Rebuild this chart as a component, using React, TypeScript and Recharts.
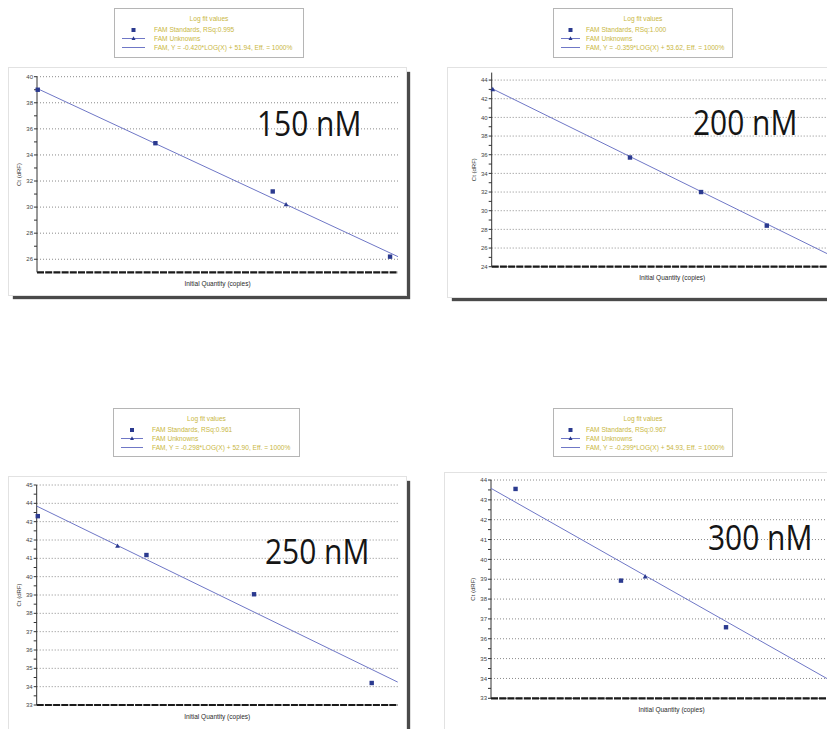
/**
 * StdCurvePanels - 四个浓度下的标准曲线 (Ct vs log quantity)
 */
import React from 'react';
import {
    ScatterChart,
    Scatter,
    XAxis,
    YAxis,
    CartesianGrid,
    Legend,
} from 'recharts';

// x = 对数起始量在坐标轴上的位置 (0-100, 无刻度), y = Ct (dRF)

// 150 nM
const p150Std = [
    { x: 0.2, y: 39.0 },
    { x: 32.8, y: 34.9 },
    { x: 65.3, y: 31.2 },
    { x: 97.8, y: 26.2 },
];
const p150Unk = [{ x: 69.0, y: 30.2 }];
const p150Fit = [{ x: 0, y: 39.1 }, { x: 100, y: 26.2 }];
const p150Major = [26, 28, 30, 32, 34, 36, 38, 40];
const p150Minor = [27, 29, 31, 33, 35, 37, 39];
const p150Legend = ['FAM Standards, RSq:0.995', 'FAM Unknowns', 'FAM, Y = -0.420*LOG(X) + 51.94, Eff. = 1000%'];

// 200 nM
const p200Std = [
    { x: 38.3, y: 35.7 },
    { x: 58.0, y: 32.0 },
    { x: 76.2, y: 28.4 },
];
const p200Unk = [{ x: 0.3, y: 43.0 }];
const p200Fit = [{ x: 0, y: 43.1 }, { x: 100, y: 24.05 }];
const p200Major = [24, 26, 28, 30, 32, 34, 36, 38, 40, 42, 44];
const p200Minor = [25, 27, 29, 31, 33, 35, 37, 39, 41, 43];
const p200Legend = ['FAM Standards, RSq:1.000', 'FAM Unknowns', 'FAM, Y = -0.359*LOG(X) + 53.62, Eff. = 1000%'];

// 250 nM
const p250Std = [
    { x: 0.3, y: 43.3 },
    { x: 30.4, y: 41.18 },
    { x: 60.2, y: 39.04 },
    { x: 92.8, y: 34.2 },
];
const p250Unk = [{ x: 22.4, y: 41.67 }];
const p250Fit = [{ x: 0, y: 43.85 }, { x: 100, y: 34.25 }];
const p250Major = [33, 34, 35, 36, 37, 38, 39, 40, 41, 42, 43, 44, 45];
const p250Minor = [33.5, 34.5, 35.5, 36.5, 37.5, 38.5, 39.5, 40.5, 41.5, 42.5, 43.5, 44.5];
const p250Legend = ['FAM Standards, RSq:0.961', 'FAM Unknowns', 'FAM, Y = -0.298*LOG(X) + 52.90, Eff. = 1000%'];

// 300 nM
const p300Std = [
    { x: 6.8, y: 43.55 },
    { x: 36.0, y: 38.93 },
    { x: 65.1, y: 36.58 },
];
const p300Unk = [{ x: 42.7, y: 39.13 }];
const p300Fit = [{ x: 0, y: 43.58 }, { x: 100, y: 33.28 }];
const p300Major = [33, 34, 35, 36, 37, 38, 39, 40, 41, 42, 43, 44];
const p300Minor = [33.5, 34.5, 35.5, 36.5, 37.5, 38.5, 39.5, 40.5, 41.5, 42.5, 43.5];
const p300Legend = ['FAM Standards, RSq:0.967', 'FAM Unknowns', 'FAM, Y = -0.299*LOG(X) + 54.93, Eff. = 1000%'];

const FONT = '"Liberation Sans", Arial, sans-serif';
const STD_COLOR = '#2b3a8f';
const FIT_COLOR = '#6f77c6';
const LEGEND_TEXT = '#c9b743';
const Y_W = 22;
const X_H = 18;

const panels = [
    {
        name: '150 nM', std: p150Std, unk: p150Unk, fit: p150Fit, major: p150Major, minor: p150Minor,
        legend: p150Legend, domain: [25, 40],
        box: { x: 9, y: 68, w: 397, h: 227 }, plot: { left: 37, top: 76.7, bottom: 272.3 },
        lg: { x: 114, y: 8, w: 190, h: 50, icon: 31, text: 40 }, big: { x: 257, cy: 124 },
    },
    {
        name: '200 nM', std: p200Std, unk: p200Unk, fit: p200Fit, major: p200Major, minor: p200Minor,
        legend: p200Legend, domain: [24, 44.8],
        box: { x: 448, y: 68, w: 420, h: 229 }, plot: { left: 491.7, top: 72.6, bottom: 266.7 },
        lg: { x: 553, y: 8, w: 180, h: 50, icon: 27, text: 33 }, big: { x: 693, cy: 122.5 },
    },
    {
        name: '250 nM', std: p250Std, unk: p250Unk, fit: p250Fit, major: p250Major, minor: p250Minor,
        legend: p250Legend, domain: [33, 45],
        box: { x: 9, y: 477, w: 397, h: 270 }, plot: { left: 36.7, top: 485, bottom: 705 },
        lg: { x: 113, y: 408, w: 187, h: 49, icon: 30, text: 39 }, big: { x: 265, cy: 552 },
    },
    {
        name: '300 nM', std: p300Std, unk: p300Unk, fit: p300Fit, major: p300Major, minor: p300Minor,
        legend: p300Legend, domain: [33, 44],
        box: { x: 445, y: 473, w: 420, h: 270 }, plot: { left: 491, top: 480, bottom: 698.3 },
        lg: { x: 553, y: 408, w: 180, h: 49, icon: 27, text: 33 }, big: { x: 708, cy: 538 },
    },
];

const StdMark = (p: any) => (
    <rect x={p.cx - 2.2} y={p.cy - 2.2} width={4.4} height={4.4} fill={STD_COLOR} />
);
const UnkMark = (p: any) => (
    <path d={`M${p.cx},${p.cy - 2.6}L${p.cx + 2.4},${p.cy + 1.8}L${p.cx - 2.4},${p.cy + 1.8}Z`} fill={STD_COLOR} />
);
const NoMark = () => <g />;

function FitLegend({ lg, labels }: any) {
    const rowY = [22, 30.5, 39.5];
    const mid = (8 + lg.icon) / 2;
    return (
        <div
            style={{
                position: 'relative', width: lg.w, height: lg.h, boxSizing: 'border-box',
                border: '1px solid #b5b5b5', background: '#fff', fontFamily: FONT,
                fontSize: 6.6, color: LEGEND_TEXT,
            }}
        >
            <div style={{ position: 'absolute', top: 6, left: 0, width: '100%', textAlign: 'center', lineHeight: '8px' }}>
                Log fit values
            </div>
            <svg width={lg.w} height={lg.h} style={{ position: 'absolute', left: -1, top: -1 }}>
                <rect x={mid - 2} y={rowY[0] - 2} width={4} height={4} fill={STD_COLOR} />
                <line x1={8} x2={lg.icon} y1={rowY[1]} y2={rowY[1]} stroke={FIT_COLOR} strokeWidth={1} />
                <path d={`M${mid},${rowY[1] - 2.3}L${mid + 2},${rowY[1] + 1.5}L${mid - 2},${rowY[1] + 1.5}Z`} fill={STD_COLOR} />
                <line x1={8} x2={lg.icon} y1={rowY[2]} y2={rowY[2]} stroke={FIT_COLOR} strokeWidth={1} />
            </svg>
            {labels.map((t: string, i: number) => (
                <div
                    key={t}
                    style={{ position: 'absolute', left: lg.text - 1, top: rowY[i] - 5, lineHeight: '8px', whiteSpace: 'nowrap' }}
                >
                    {t}
                </div>
            ))}
        </div>
    );
}

function Panel({ cfg }: any) {
    const { box, plot, lg } = cfg;
    const plotW = 361;
    const relLeft = plot.left - box.x;
    const margin = {
        top: plot.top - box.y,
        left: relLeft - Y_W,
        right: box.w - relLeft - plotW,
        bottom: box.h - (plot.bottom - box.y) - X_H,
    };
    const ticks = [...cfg.major, ...cfg.minor].sort((a, b) => a - b);
    return (
        <div
            style={{
                position: 'absolute', left: box.x, top: box.y, width: box.w, height: box.h,
                background: '#fff', boxShadow: '0 0 0 1px #e2e2e2, 4px 4px 1px #4a4a4a',
            }}
        >
            <ScatterChart width={box.w} height={box.h} margin={margin} style={{ fontFamily: FONT }}>
                <CartesianGrid
                    vertical={false}
                    horizontalValues={cfg.major}
                    stroke="#8a8a8a"
                    strokeDasharray="1 2"
                />
                <XAxis
                    type="number"
                    dataKey="x"
                    domain={[0, 100]}
                    height={X_H}
                    tick={false}
                    tickLine={false}
                    axisLine={{ stroke: '#1a1a1a', strokeWidth: 2.2, strokeDasharray: '7 1.2' }}
                    label={{
                        value: 'Initial Quantity (copies)', position: 'insideTop', offset: 9,
                        fontSize: 6.5, fill: '#2a2a2a',
                    }}
                />
                <YAxis
                    type="number"
                    dataKey="y"
                    domain={cfg.domain}
                    ticks={ticks}
                    interval={0}
                    allowDataOverflow
                    width={Y_W}
                    tickSize={3}
                    tickMargin={1}
                    tickLine={{ stroke: '#333' }}
                    axisLine={{ stroke: '#333' }}
                    tick={{ fontSize: 6, fill: '#444' }}
                    tickFormatter={(v: number) => (cfg.major.includes(v) ? String(v) : '')}
                    label={{
                        value: 'Ct (dRF)', angle: -90, position: 'insideLeft', offset: 4,
                        fontSize: 6, fill: '#333', style: { textAnchor: 'middle' },
                    }}
                />
                <Legend
                    layout="vertical"
                    align="center"
                    verticalAlign="middle"
                    wrapperStyle={{
                        position: 'absolute', left: lg.x - box.x, top: lg.y - box.y,
                        width: lg.w, height: lg.h, margin: 0,
                    }}
                    content={() => <FitLegend lg={lg} labels={cfg.legend} />}
                />
                <Scatter
                    name={cfg.legend[2]}
                    data={cfg.fit}
                    line={{ stroke: FIT_COLOR, strokeWidth: 1 }}
                    shape={NoMark}
                    isAnimationActive={false}
                />
                <Scatter name={cfg.legend[0]} data={cfg.std} shape={StdMark} isAnimationActive={false} />
                <Scatter name={cfg.legend[1]} data={cfg.unk} shape={UnkMark} isAnimationActive={false} />
            </ScatterChart>
            <div
                style={{
                    position: 'absolute', left: cfg.big.x - box.x, top: cfg.big.cy - 18 - box.y,
                    fontFamily: '"Open Sans", sans-serif', fontSize: 34, lineHeight: 1, color: '#151515',
                    transform: 'scaleX(0.88)', transformOrigin: 'left top', whiteSpace: 'nowrap',
                }}
            >
                {cfg.name}
            </div>
        </div>
    );
}

export default function App() {
    return (
        <div
            style={{
                position: 'absolute', left: 0, top: 0, width: 827, height: 729,
                overflow: 'hidden', background: '#fff',
            }}
        >
            {panels.map((p) => (
                <Panel key={p.name} cfg={p} />
            ))}
        </div>
    );
}
